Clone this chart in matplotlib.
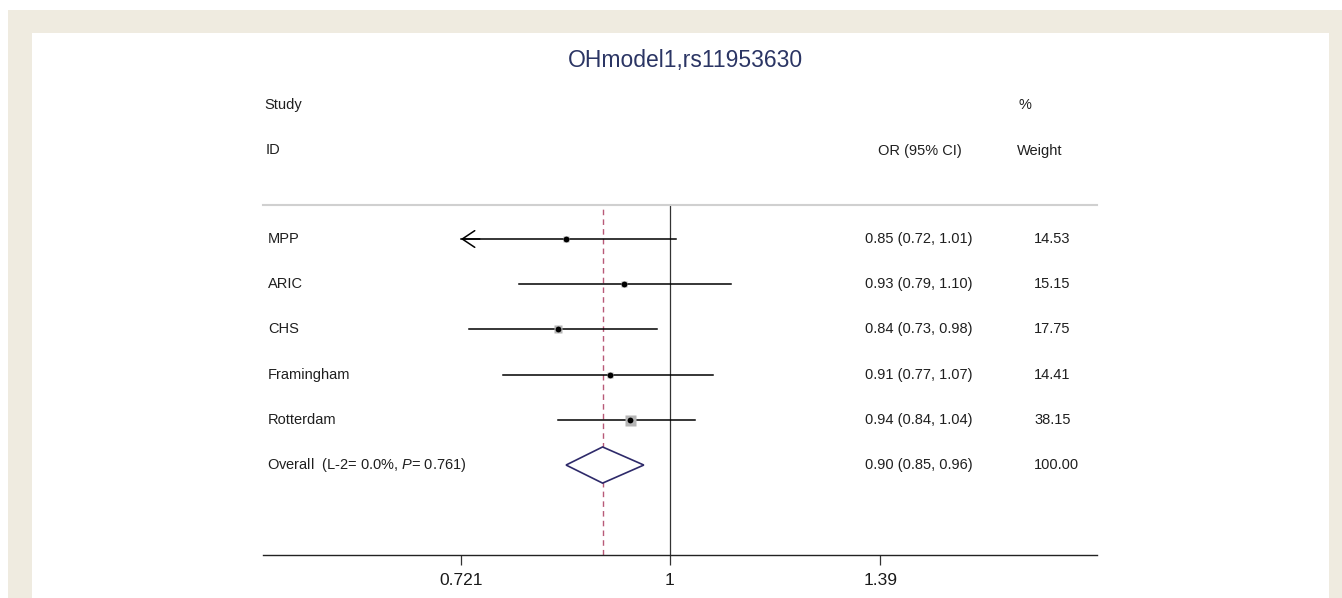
import numpy as np
import matplotlib
matplotlib.use("Agg")
import matplotlib.pyplot as plt
from matplotlib.patches import Rectangle, Polygon
import matplotlib.transforms as mtransforms

plt.rcParams['font.family'] = ['Liberation Sans', 'DejaVu Sans']
plt.rcParams['mathtext.fontset'] = 'custom'
plt.rcParams['mathtext.rm'] = 'Liberation Sans'
plt.rcParams['mathtext.it'] = 'Liberation Sans:italic'

# ---- data ----
title = "OHmodel1,rs11953630"
studies = ["MPP", "ARIC", "CHS", "Framingham", "Rotterdam"]
or_est = [0.85, 0.93, 0.84, 0.91, 0.94]
ci_low = [0.72, 0.79, 0.73, 0.77, 0.84]
ci_high = [1.01, 1.10, 0.98, 1.07, 1.04]
weights = [14.53, 15.15, 17.75, 14.41, 38.15]
or_text = ["0.85 (0.72, 1.01)", "0.93 (0.79, 1.10)", "0.84 (0.73, 0.98)",
           "0.91 (0.77, 1.07)", "0.94 (0.84, 1.04)"]
weight_text = ["14.53", "15.15", "17.75", "14.41", "38.15"]
overall_label = r"Overall  (L-2= 0.0%, $\it{P}$= 0.761)"
overall_est, overall_low, overall_high = 0.90, 0.85, 0.96
overall_or_text = "0.90 (0.85, 0.96)"
overall_weight_text = "100.00"
tick_vals = [0.721, 1, 1.39]
tick_labels = ["0.721", "1", "1.39"]
disp_min, disp_max = 0.721, 1.39

W, H = 1342, 598
fig = plt.figure(figsize=(W / 100, H / 100), dpi=100)
fig.patch.set_facecolor('white')

def fx(px):
    return px / W

def fy(py):
    return 1 - py / H

# beige frame
fig.patches.append(Rectangle((fx(8), 0), fx(1342 - 8), fy(10), transform=fig.transFigure,
                             facecolor='#EFEBE0', edgecolor='none', zorder=-5))
fig.patches.append(Rectangle((fx(32), 0), fx(1329 - 32), fy(33), transform=fig.transFigure,
                             facecolor='white', edgecolor='none', zorder=-4))

ax_l, ax_r, ax_t, ax_b = 263, 1097, 205, 555
ax = fig.add_axes([fx(ax_l), fy(ax_b), fx(ax_r - ax_l), (ax_b - ax_t) / H])
ax.set_zorder(2)
ax.set_facecolor('none')
ax.set_xscale('log')
ax.set_xlim(0.529, 1.951)
ax.set_ylim(6.99, -0.752)

for s in ['left', 'right']:
    ax.spines[s].set_visible(False)
ax.spines['top'].set_color('#d0d0d0')
ax.spines['top'].set_linewidth(1.5)
ax.spines['bottom'].set_color('#222222')
ax.spines['bottom'].set_linewidth(1.0)
ax.set_yticks([])
ax.set_xticks(tick_vals)
ax.set_xticklabels(tick_labels, fontsize=12.5, color='#1a1a1a')
ax.xaxis.set_minor_locator(matplotlib.ticker.NullLocator())
ax.tick_params(axis='x', length=7, width=0.9, color='#333333', pad=6)

# reference lines
ax.axvline(1, color='#333333', lw=0.9, zorder=2)
ax.axvline(overall_est, color='#B85A78', lw=1.0, ls=(0, (4, 3)), zorder=2)

for i, (e, lo, hi, w) in enumerate(zip(or_est, ci_low, ci_high, weights)):
    lo_c = max(lo, disp_min)
    hi_c = min(hi, disp_max)
    ax.plot([lo_c, hi_c], [i, i], color='black', lw=1.1, zorder=3)
    if lo < disp_min:
        ax.annotate("", xy=(lo_c, i), xytext=(lo_c * 1.03, i),
                    arrowprops=dict(arrowstyle="->,head_length=0.9,head_width=0.6",
                                    color='black', lw=1.1, shrinkA=0, shrinkB=0), zorder=3)
    side = 11 * 0.72 * np.sqrt(w / max(weights))
    ax.plot([e], [i], marker='s', ms=side, color='#B5B5B5', mec='none', zorder=4)
    ax.plot([e], [i], marker='o', ms=4.2, color='black', mec='none', zorder=5)

# overall diamond
yo = len(studies)
dh = 0.40
diamond = Polygon([[overall_low, yo], [overall_est, yo - dh], [overall_high, yo], [overall_est, yo + dh]],
                  closed=True, facecolor='white', edgecolor='#2E2A6A', lw=1.2, zorder=4)
ax.add_patch(diamond)

# texts
trans = mtransforms.blended_transform_factory(fig.transFigure, ax.transData)
fs = 10.5
tc = '#1f1f1f'
for i, name in enumerate(studies):
    ax.text(fx(268), i, name, transform=trans, fontsize=fs, va='center', ha='left', color=tc)
    ax.text(fx(865), i, or_text[i], transform=trans, fontsize=fs, va='center', ha='left', color=tc)
    ax.text(fx(1034), i, weight_text[i], transform=trans, fontsize=fs, va='center', ha='left', color=tc)
ax.text(fx(267), yo, overall_label, transform=trans, fontsize=fs, va='center', ha='left', color=tc)
ax.text(fx(865), yo, overall_or_text, transform=trans, fontsize=fs, va='center', ha='left', color=tc)
ax.text(fx(1034), yo, overall_weight_text, transform=trans, fontsize=fs, va='center', ha='left', color=tc)

fig.text(fx(685), fy(61), title, fontsize=16.5, ha='center', va='center', color='#2B3564')
fig.text(fx(264), fy(105), "Study", fontsize=fs, ha='left', va='center', color=tc)
fig.text(fx(266), fy(150), "ID", fontsize=fs, ha='left', va='center', color=tc)
fig.text(fx(1025), fy(105), "%", fontsize=fs, ha='center', va='center', color=tc)
fig.text(fx(920), fy(151), "OR (95% CI)", fontsize=fs, ha='center', va='center', color=tc)
fig.text(fx(1040), fy(151), "Weight", fontsize=fs, ha='center', va='center', color=tc)

fig.savefig("out.png", dpi=100, facecolor=fig.get_facecolor())
